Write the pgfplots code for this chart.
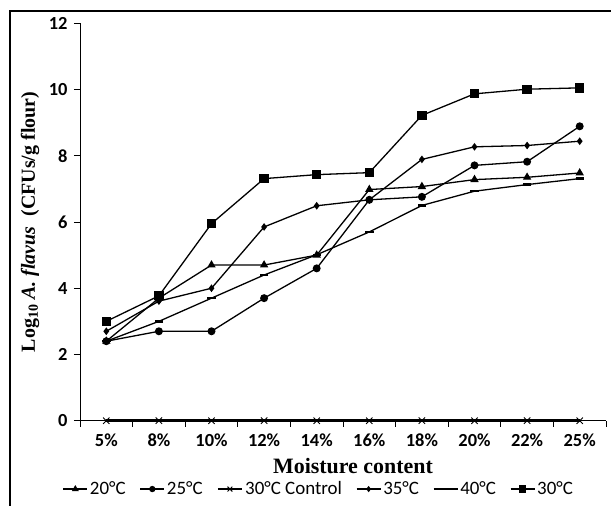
\documentclass[border=0pt]{standalone}
\usepackage{fontspec}
\setmainfont{Liberation Serif}
\newfontfamily\carlito{Carlito}
\usepackage{pgfplots}
\pgfplotsset{compat=1.18}

\newcommand{\tickfont}{\carlito\bfseries\fontsize{18.5}{18.5}\selectfont}
\newcommand{\legfont}{\carlito\fontsize{19}{19}\selectfont}
\newcommand{\labfont}{\bfseries\fontsize{20}{20}\selectfont}

\begin{document}
\begin{tikzpicture}
\useasboundingbox (0,0) rectangle (611bp,506bp);
% frame of the figure (left and top only)
\draw[line width=1.8bp] (10bp,0) -- (10bp,495bp) -- (611bp,495bp);
\begin{axis}[
    scale only axis, width=526bp, height=397.4bp,
    at={(80bp,85.3bp)}, anchor=origin,
    xmin=0.5, xmax=10.5, ymin=0, ymax=12,
    axis lines*=left,
    axis line style={line width=0.8bp},
    tick align=outside, major tick length=6bp,
    tick style={black, line width=0.8bp},
    ytick={0,2,...,12},
    xtick={0.5,1.5,2.5,3.5,4.5,5.5,6.5,7.5,8.5,9.5},
    xticklabels={5\%,8\%,10\%,12\%,14\%,16\%,18\%,20\%,22\%,25\%},
    extra x ticks={10.5}, extra x tick labels={},
    xticklabel style={xshift=26.3bp, yshift=-4bp},
    yticklabel style={xshift=-3bp},
    /pgf/number format/assume math mode=true,
    ticklabel style={font=\tickfont},
    xlabel={Moisture content},
    ylabel={Log\textsubscript{10} \textit{A. flavus}\ \ (CFUs/g flour)},
    label style={font=\labfont},
    xlabel style={font=\bfseries\fontsize{22}{22}\selectfont, at={(axis description cs:0.519,-0.114)}, anchor=center},
    ylabel style={at={(axis description cs:-0.095,0.5)}, anchor=center},
    legend columns=6,
    legend style={draw=none, font=\legfont, at={(axis description cs:0.454,-0.172)}, anchor=center,
        inner sep=0pt,
        /tikz/every even column/.append style={column sep=12bp}},
    legend image code/.code={\draw[mark repeat=2,mark phase=2,#1,/tikz/every mark/.append style={scale=0.75}] plot coordinates {(0bp,0bp) (12bp,0bp) (24bp,0bp)};},
    every axis plot/.append style={black, line width=1.3bp},
    clip=false,
]
% 20 C
\addplot[mark=triangle*, mark size=3.6bp] coordinates {(1,2.4) (2,3.7) (3,4.7) (4,4.7) (5,5.0) (6,6.98) (7,7.07) (8,7.28) (9,7.35) (10,7.48)};
\addlegendentry{20°C}
% 25 C
\addplot[mark=*, mark size=3.3bp] coordinates {(1,2.4) (2,2.7) (3,2.7) (4,3.7) (5,4.6) (6,6.67) (7,6.76) (8,7.71) (9,7.82) (10,8.89)};
\addlegendentry{25°C}
% 30 C control
\addplot[line width=2.6bp, mark=x, mark size=4.5bp, mark options={line width=0.9bp}] coordinates {(1,0) (2,0) (3,0) (4,0) (5,0) (6,0) (7,0) (8,0) (9,0) (10,0)};
\addlegendentry{30°C Control}
% 35 C
\addplot[mark=diamond*, mark size=2.8bp] coordinates {(1,2.7) (2,3.61) (3,4.0) (4,5.85) (5,6.49) (6,6.67) (7,7.89) (8,8.27) (9,8.31) (10,8.44)};
\addlegendentry{35°C}
% 40 C
\addplot[mark=-, mark size=4.2bp, mark options={line width=2.4bp}] coordinates {(1,2.4) (2,3.0) (3,3.7) (4,4.4) (5,5.01) (6,5.70) (7,6.50) (8,6.93) (9,7.13) (10,7.31)};
\addlegendentry{40°C}
% 30 C
\addplot[mark=square*, mark size=4bp] coordinates {(1,3.0) (2,3.77) (3,5.95) (4,7.31) (5,7.43) (6,7.49) (7,9.22) (8,9.87) (9,10.01) (10,10.05)};
\addlegendentry{30°C}
\end{axis}
\end{tikzpicture}
\end{document}
